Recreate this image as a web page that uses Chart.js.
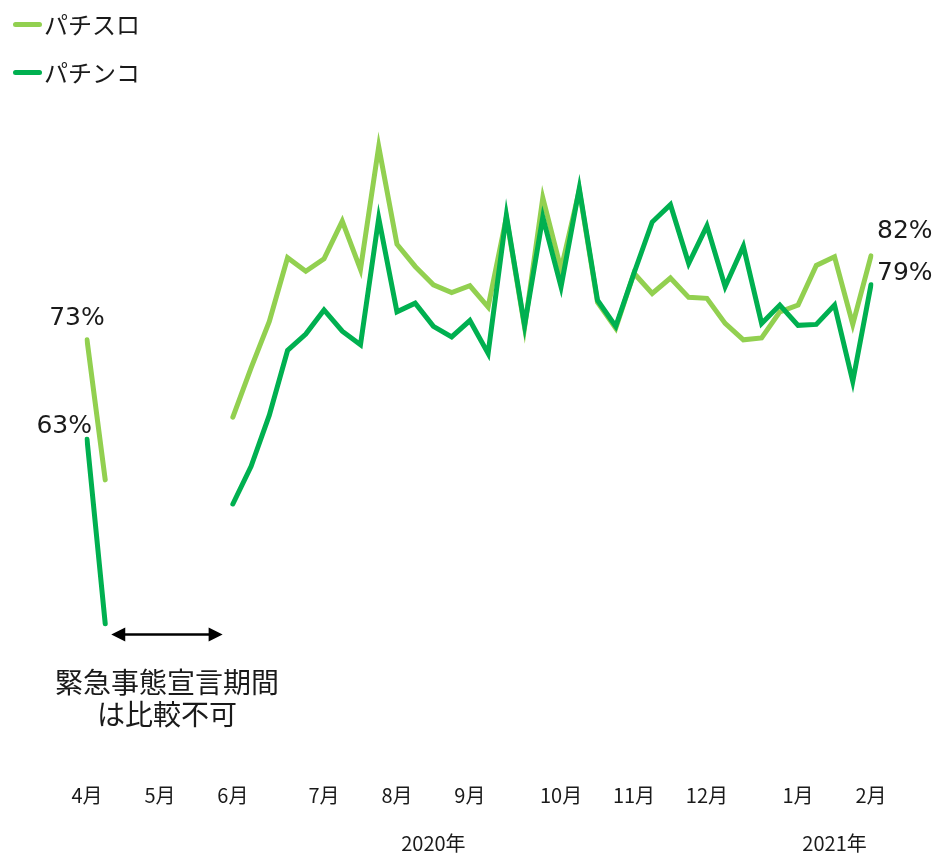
<!DOCTYPE html>
<html lang="ja">
<head>
<meta charset="utf-8">
<title>パチスロ・パチンコ</title>
<script src="https://cdn.jsdelivr.net/npm/chart.js"></script>
<style>
    body { margin: 0; background: #fff; }
    #wrap { position: relative; width: 939px; height: 854px; }
    #legend { position: absolute; left: 0; top: 0; font-family: "Noto Sans CJK JP", sans-serif; font-size: 24px; color: #1a1a1a; }
    .item { position: absolute; left: 13px; height: 30px; white-space: nowrap; }
    .item .swatch { position: absolute; left: 0; top: 13px; width: 29px; height: 5px; border-radius: 3px; }
    .item .text { position: absolute; left: 31px; top: 0; line-height: 30px; }
</style>
</head>
<body>
<div id="wrap">
    <canvas id="myChart"></canvas>
    <div id="legend"></div>
</div>
<script>
// weekly points, April 2020 - February 2021 (gap = state of emergency)
const monthLabels = [
    '4月', '', '', '', '5月', '', '', '', '6月', '', '', '', '',
    '7月', '', '', '', '8月', '', '', '', '9月', '', '', '', '',
    '10月', '', '', '', '11月', '', '', '', '12月', '', '', '', '',
    '1月', '', '', '', '2月'
];
const yearLabels = [
    '', '', '', '', '', '', '', '', '', '', '', '', '', '', '', '', '', '', '',
    '2020年', '', '', '', '', '', '', '', '', '', '', '', '', '', '', '', '', '', '', '', '', '',
    '2021年', '', ''
];

const seriesNames = ['パチスロ', 'パチンコ'];
const seriesColors = ['#92d050', '#00b050'];

const pachisloValues = [
    73.3, 58.8, null, null, null, null, null, null,
    65.3, 70.4, 75.2, 81.8, 80.4, 81.7, 85.6, 80.6, 93.3, 83.2, 80.9, 79.0,
    78.2, 78.9, 76.7, 86.0, 74.6, 88.0, 80.6, 88.8, 77.2, 74.5, 80.2, 78.1,
    79.7, 77.7, 77.6, 75.0, 73.3, 73.5, 76.2, 76.9, 81.0, 81.9, 74.9, 82.0
];
const pachinkoValues = [
    63.0, 43.9, null, null, null, null, null, null,
    56.3, 60.2, 65.5, 72.2, 73.9, 76.4, 74.2, 72.8, 85.9, 76.2, 77.1, 74.7,
    73.6, 75.3, 71.9, 86.2, 74.8, 86.0, 78.8, 89.0, 77.4, 74.7, 80.2, 85.5,
    87.3, 81.2, 85.1, 78.8, 83.0, 75.0, 76.9, 74.8, 74.9, 76.9, 69.0, 79.0
];

const noteLines = ['緊急事態宣言期間', 'は比較不可'];

const fontJP = '"Noto Sans CJK JP", sans-serif';
const fontNum = '"DejaVu Sans", sans-serif';

// percent labels at the first and last point of each line
const valueLabels = {
    id: 'valueLabels',
    afterDatasetsDraw(chart) {
        const ctx = chart.ctx;
        ctx.save();
        ctx.font = '25px ' + fontNum;
        ctx.fillStyle = '#1a1a1a';
        ctx.textBaseline = 'middle';

        const slo = chart.getDatasetMeta(0).data;
        const pachi = chart.getDatasetMeta(1).data;
        const last = slo.length - 1;

        ctx.textAlign = 'center';
        ctx.fillText(Math.round(pachisloValues[0]) + '%', slo[0].x - 10, slo[0].y - 21);
        ctx.textAlign = 'right';
        ctx.fillText(Math.round(pachinkoValues[0]) + '%', pachi[0].x + 5, pachi[0].y - 13);
        ctx.textAlign = 'left';
        ctx.fillText(Math.round(pachisloValues[last]) + '%', slo[last].x + 6, slo[last].y - 24);
        ctx.fillText(Math.round(pachinkoValues[last]) + '%', pachi[last].x + 6, pachi[last].y - 11);
        ctx.restore();
    }
};

// double arrow over the gap and its note
const gapNote = {
    id: 'gapNote',
    afterDatasetsDraw(chart) {
        const ctx = chart.ctx;
        const xs = chart.scales.x;
        const ys = chart.scales.y;
        const x1 = xs.getPixelForValue(1) + 6;
        const x2 = xs.getPixelForValue(7) + 8;
        const y = ys.getPixelForValue(42.8);
        const head = 14;

        ctx.save();
        ctx.strokeStyle = '#000';
        ctx.fillStyle = '#000';
        ctx.lineWidth = 2.5;
        ctx.beginPath();
        ctx.moveTo(x1 + head - 2, y);
        ctx.lineTo(x2 - head + 2, y);
        ctx.stroke();
        ctx.beginPath();
        ctx.moveTo(x1, y);
        ctx.lineTo(x1 + head, y - 7);
        ctx.lineTo(x1 + head, y + 7);
        ctx.closePath();
        ctx.fill();
        ctx.beginPath();
        ctx.moveTo(x2, y);
        ctx.lineTo(x2 - head, y - 7);
        ctx.lineTo(x2 - head, y + 7);
        ctx.closePath();
        ctx.fill();

        ctx.font = '28px ' + fontJP;
        ctx.fillStyle = '#1a1a1a';
        ctx.textAlign = 'center';
        ctx.textBaseline = 'middle';
        const cx = (x1 + x2) / 2;
        ctx.fillText(noteLines[0], cx, y + 48);
        ctx.fillText(noteLines[1], cx, y + 80);
        ctx.restore();
    }
};

const ctx = document.getElementById('myChart').getContext('2d');

const chart = new Chart(ctx, {
    type: 'line',
    data: {
        labels: monthLabels,
        datasets: [
            {
                label: seriesNames[0],
                data: pachisloValues,
                borderColor: seriesColors[0],
                backgroundColor: seriesColors[0],
                order: 1
            },
            {
                label: seriesNames[1],
                data: pachinkoValues,
                borderColor: seriesColors[1],
                backgroundColor: seriesColors[1],
                order: 0
            }
        ]
    },
    options: {
        responsive: true,
        maintainAspectRatio: false,
        animation: false,
        layout: {
            padding: { top: 82, left: 87, right: 68, bottom: 0 }
        },
        elements: {
            line: { borderWidth: 5, tension: 0, borderCapStyle: 'round', fill: false },
            point: { radius: 0, hoverRadius: 0 }
        },
        spanGaps: false,
        plugins: {
            legend: { display: false },
            tooltip: { enabled: false }
        },
        scales: {
            x: {
                weight: 1,
                grid: { display: false, drawTicks: false },
                border: { display: false },
                ticks: {
                    autoSkip: false,
                    maxRotation: 0,
                    padding: 27.2,
                    color: '#1a1a1a',
                    font: { family: fontJP, size: 20, lineHeight: 1 }
                }
            },
            x2: {
                type: 'category',
                position: 'bottom',
                weight: 2,
                labels: yearLabels,
                grid: { display: false, drawTicks: false },
                border: { display: false },
                ticks: {
                    autoSkip: false,
                    maxRotation: 0,
                    padding: 0.8,
                    color: '#1a1a1a',
                    font: { family: fontJP, size: 20, lineHeight: 1 }
                }
            },
            y: {
                display: false,
                min: 30,
                max: 100
            }
        }
    },
    plugins: [valueLabels, gapNote]
});

// legend stacked in the top-left corner, built from the chart's datasets
const legendEl = document.getElementById('legend');
chart.data.datasets.forEach((ds, i) => {
    const item = document.createElement('div');
    item.className = 'item';
    item.style.top = (9 + i * 48) + 'px';
    const swatch = document.createElement('span');
    swatch.className = 'swatch';
    swatch.style.background = ds.borderColor;
    const text = document.createElement('span');
    text.className = 'text';
    text.textContent = ds.label;
    item.appendChild(swatch);
    item.appendChild(text);
    legendEl.appendChild(item);
});
</script>
</body>
</html>
